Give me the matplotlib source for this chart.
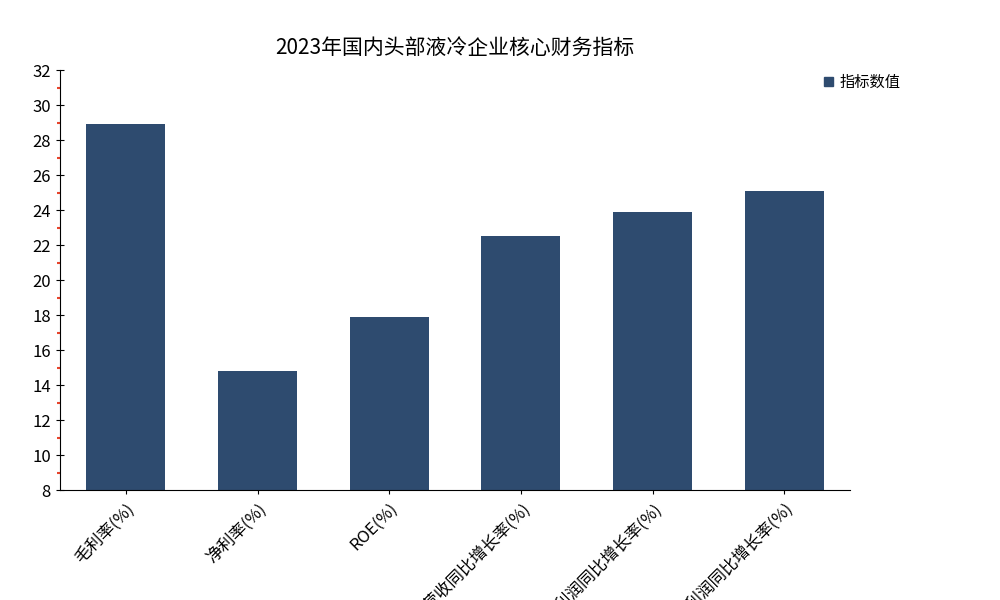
import matplotlib
matplotlib.use("Agg")
import matplotlib.pyplot as plt
from matplotlib.ticker import MultipleLocator
from matplotlib.patches import Patch

plt.rcParams["font.family"] = ["Noto Sans CJK SC", "DejaVu Sans"]

categories = ["毛利率(%)", "净利率(%)", "ROE(%)", "营收同比增长率(%)",
              "归母净利润同比增长率(%)", "营业利润同比增长率(%)"]
values = [28.9, 14.8, 17.9, 22.5, 23.9, 25.1]
bar_color = "#2e4b6f"

fig = plt.figure(figsize=(10, 6), dpi=100)
ax = fig.add_axes([0.06, 0.183, 0.79, 0.7])
x = range(len(categories))
ax.bar(x, values, width=0.6, color=bar_color, zorder=2)
ax.set_xlim(-0.5, len(categories) - 0.5)
ax.set_ylim(8, 32)
ax.yaxis.set_major_locator(MultipleLocator(2))
ax.yaxis.set_minor_locator(MultipleLocator(1))
ax.tick_params(axis="y", which="major", direction="inout", length=6, labelsize=12)
ax.tick_params(axis="y", which="minor", direction="out", length=2, width=1.5, color="#e8452c")
ax.set_xticks(list(x))
ax.set_xticklabels(categories, rotation=45, ha="right", rotation_mode="anchor", fontsize=12)
ax.tick_params(axis="x", direction="inout", length=6, pad=4)
for s in ["top", "right"]:
    ax.spines[s].set_visible(False)
ax.set_title("2023年国内头部液冷企业核心财务指标", fontsize=15, pad=12)
fig.legend(handles=[Patch(color=bar_color, label="指标数值")], loc="upper left",
           bbox_to_anchor=(0.81, 0.9), frameon=False, handlelength=0.6, handleheight=0.6,
           handletextpad=0.4, fontsize=11)
fig.savefig("out.png", dpi=100)
